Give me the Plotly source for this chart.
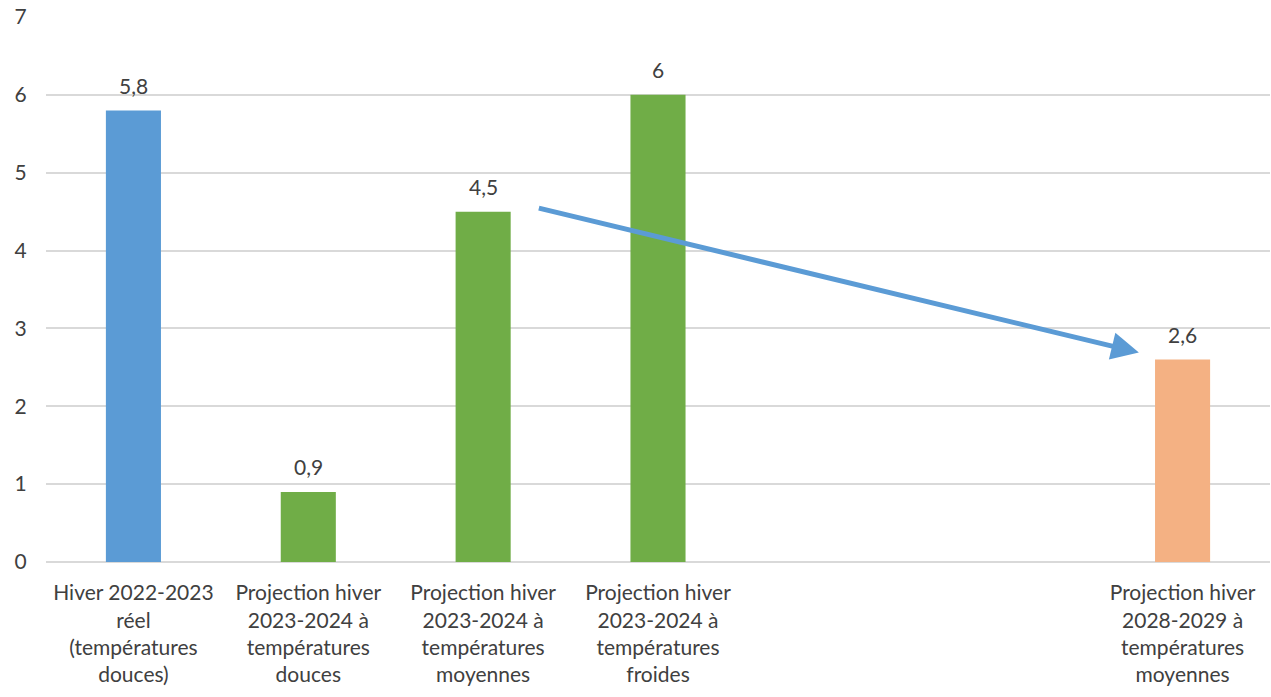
import plotly.graph_objects as go

categories = [
    "Hiver 2022-2023<br>réel<br>(températures<br>douces)",
    "Projection hiver<br>2023-2024 à<br>températures<br>douces",
    "Projection hiver<br>2023-2024 à<br>températures<br>moyennes",
    "Projection hiver<br>2023-2024 à<br>températures<br>froides",
    "",
    "",
    "Projection hiver<br>2028-2029 à<br>températures<br>moyennes",
]
values = [5.8, 0.9, 4.5, 6.0, None, None, 2.6]
value_labels = ["5,8", "0,9", "4,5", "6", "", "", "2,6"]
colors = ["#5B9BD5", "#70AD47", "#70AD47", "#70AD47", "#FFFFFF", "#FFFFFF", "#F4B183"]
y_ticks = [0, 1, 2, 3, 4, 5, 6, 7]

# arrow (data coords): from near top of 3rd green bar toward the 2028 bar
arrow_start = (2.31, 4.55)
arrow_end = (5.75, 2.69)

FONT = "Lato, 'Open Sans', sans-serif"
x_pos = list(range(len(categories)))

fig = go.Figure()
fig.add_trace(go.Bar(
    x=x_pos, y=values, width=0.315,
    marker=dict(color=colors, line=dict(width=0)),
    hoverinfo="skip",
))

for xi, v, lab in zip(x_pos, values, value_labels):
    if v is None:
        continue
    fig.add_annotation(
        x=xi, y=v, xref="x", yref="y", text=lab, showarrow=False,
        yanchor="middle", yshift=25,
        font=dict(family=FONT, size=21, color="#404040"),
    )

fig.add_annotation(
    x=arrow_end[0], y=arrow_end[1], ax=arrow_start[0], ay=arrow_start[1],
    xref="x", yref="y", axref="x", ayref="y",
    showarrow=True, arrowhead=2, arrowsize=1.1, arrowwidth=5,
    arrowcolor="#5B9BD5", standoff=0, text="",
)

fig.update_layout(
    width=1271, height=697,
    margin=dict(l=46, r=1, t=17, b=135),
    paper_bgcolor="white", plot_bgcolor="white",
    showlegend=False,
    font=dict(family=FONT, size=21, color="#404040"),
)
fig.update_xaxes(
    tickmode="array", tickvals=x_pos, ticktext=categories,
    range=[-0.5, 6.5], showgrid=False, zeroline=False, showline=False,
    ticks="outside", ticklen=12, tickcolor="rgba(0,0,0,0)",
    tickfont=dict(family=FONT, size=21, color="#404040"),
)
fig.update_yaxes(
    range=[0, 7], tickmode="array", tickvals=y_ticks,
    showgrid=True, gridcolor="#D9D9D9", gridwidth=1.5,
    zeroline=True, zerolinecolor="#D9D9D9", zerolinewidth=1.5,
    showline=False, ticks="outside", ticklen=14, tickcolor="rgba(0,0,0,0)",
    tickfont=dict(family=FONT, size=21, color="#404040"),
)

fig.write_html("out.html")
